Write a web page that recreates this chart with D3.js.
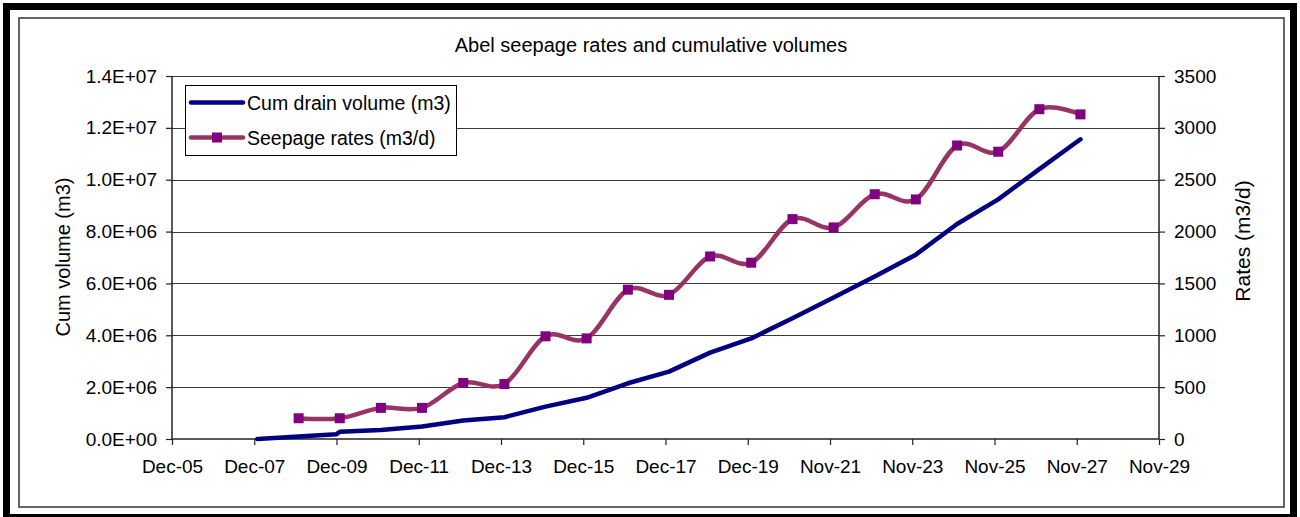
<!DOCTYPE html>
<html>
<head>
<meta charset="utf-8">
<script src="https://cdn.jsdelivr.net/npm/d3@7/dist/d3.min.js"></script>
<style>
  html, body { margin: 0; padding: 0; background: #fff; }
  svg { display: block; font-family: "Liberation Sans", Arial, sans-serif; }
</style>
</head>
<body>
<svg id="chart" width="1300" height="517"></svg>
<script>
// Seepage rates (m3/d), one reading per year
const seepDates = ["2009-01-01","2010-01-01","2011-01-01","2012-01-01","2013-01-01",
  "2014-01-01","2015-01-01","2016-01-01","2017-01-01","2018-01-01",
  "2019-01-01","2020-01-01","2021-01-01","2022-01-01","2023-01-01",
  "2024-01-01","2025-01-01","2026-01-01","2027-01-01","2028-01-01"];
const seepRates = [200, 200, 300, 300, 540, 530, 990, 970, 1440, 1390,
  1760, 1700, 2120, 2040, 2360, 2310, 2830, 2770, 3180, 3130];

// Cumulative drain volume (m3)
const cumDates = ["2008-01-01","2009-12-01","2010-01-01","2011-01-01","2012-01-01",
  "2013-01-01","2014-01-01","2015-01-01","2016-01-01","2017-01-01",
  "2018-01-01","2019-01-01","2020-01-01","2021-01-01","2022-01-01",
  "2023-01-01","2024-01-01","2025-01-01","2026-01-01","2027-01-01","2028-01-01"];
const cumVolumes = [0, 180000, 280000, 350000, 480000, 710000, 840000, 1250000,
  1590000, 2150000, 2600000, 3330000, 3880000, 4660000, 5460000, 6270000,
  7110000, 8290000, 9240000, 10410000, 11560000];

// Date axis ticks (730-day major unit)
const xTickDates = ["2005-12-04","2007-12-04","2009-12-03","2011-12-03","2013-12-02",
  "2015-12-02","2017-12-01","2019-12-01","2021-11-30","2023-11-30",
  "2025-11-29","2027-11-29","2029-11-28"];
const leftTicks = [0, 2e6, 4e6, 6e6, 8e6, 1e7, 1.2e7, 1.4e7];
const rightTicks = [0, 500, 1000, 1500, 2000, 2500, 3000, 3500];

const parse = d3.utcParse("%Y-%m-%d");
const svg = d3.select("#chart");

// Outer frame and chart-area border
svg.append("rect").attr("x", 6.5).attr("y", 6.5).attr("width", 1287).attr("height", 511)
  .attr("fill", "none").attr("stroke", "#000").attr("stroke-width", 7);
svg.append("rect").attr("x", 19).attr("y", 18).attr("width", 1265).attr("height", 489)
  .attr("fill", "none").attr("stroke", "#333").attr("stroke-width", 1.5);

const plot = { left: 172, right: 1159, top: 76, bottom: 439 };

const x = d3.scaleUtc()
  .domain([parse(xTickDates[0]), parse(xTickDates[xTickDates.length - 1])])
  .range([plot.left, plot.right]);
const yL = d3.scaleLinear().domain([0, 1.4e7]).range([plot.bottom, plot.top]);
const yR = d3.scaleLinear().domain([0, 3500]).range([plot.bottom, plot.top]);

const sci = v => {
  if (v === 0) return "0.0E+00";
  const e = Math.floor(Math.log10(v));
  const m = v / Math.pow(10, e);
  return m.toFixed(1) + "E+" + String(e).padStart(2, "0");
};

// Horizontal gridlines
svg.append("g").selectAll("line").data(leftTicks.slice(1)).join("line")
  .attr("x1", plot.left).attr("x2", plot.right)
  .attr("y1", d => Math.round(yL(d)) + 0.5).attr("y2", d => Math.round(yL(d)) + 0.5)
  .attr("stroke", "#3a3a3a").attr("stroke-width", 1.2);

const fontSize = 19;

// Left axis
const gL = svg.append("g").attr("transform", `translate(${plot.left},0)`)
  .call(d3.axisLeft(yL).tickValues(leftTicks).tickFormat(sci).tickSize(6).tickPadding(9));
// Right axis
const gR = svg.append("g").attr("transform", `translate(${plot.right},0)`)
  .call(d3.axisRight(yR).tickValues(rightTicks).tickFormat(d3.format("d")).tickSize(6).tickPadding(9));
// Bottom axis
const gB = svg.append("g").attr("transform", `translate(0,${plot.bottom})`)
  .call(d3.axisBottom(x).tickValues(xTickDates.map(parse))
    .tickFormat(d3.utcFormat("%b-%y")).tickSize(6).tickPadding(15));

[gL, gR, gB].forEach(g => {
  g.selectAll("path.domain").attr("stroke", "#222").attr("stroke-width", 1.5);
  g.selectAll(".tick line").attr("stroke", "#222").attr("stroke-width", 1.2);
  g.selectAll("text").attr("font-size", fontSize).attr("fill", "#000")
    .attr("font-family", "Liberation Sans, Arial, sans-serif");
});
gL.select("path.domain").attr("d", `M0,${plot.top}V${plot.bottom}`);
gR.select("path.domain").attr("d", `M0,${plot.top}V${plot.bottom}`);
gB.select("path.domain").attr("d", `M${plot.left},0H${plot.right}`);

// Cumulative volume line
const cumData = cumDates.map((d, i) => ({ date: parse(d), v: cumVolumes[i] }));
svg.append("path").datum(cumData)
  .attr("fill", "none").attr("stroke", "#000080").attr("stroke-width", 4.5)
  .attr("stroke-linejoin", "round").attr("stroke-linecap", "round")
  .attr("d", d3.line().x(d => x(d.date)).y(d => yL(d.v)));

// Seepage rate line (smoothed) with square markers
const seepData = seepDates.map((d, i) => ({ date: parse(d), v: seepRates[i] }));
svg.append("path").datum(seepData)
  .attr("fill", "none").attr("stroke", "#993366").attr("stroke-width", 4.5)
  .attr("stroke-linejoin", "round")
  .attr("d", d3.line().curve(d3.curveCardinal.tension(0)).x(d => x(d.date)).y(d => yR(d.v)));
const ms = 10;
svg.append("g").selectAll("rect").data(seepData).join("rect")
  .attr("x", d => x(d.date) - ms / 2).attr("y", d => yR(d.v) - ms / 2)
  .attr("width", ms).attr("height", ms).attr("fill", "#800080");

// Title
svg.append("text").attr("x", 651).attr("y", 52).attr("text-anchor", "middle")
  .attr("font-size", 20).text("Abel seepage rates and cumulative volumes");

// Axis titles
svg.append("text").attr("transform", "translate(70,257) rotate(-90)")
  .attr("text-anchor", "middle").attr("font-size", 20).text("Cum volume (m3)");
svg.append("text").attr("transform", "translate(1250,241) rotate(-90)")
  .attr("text-anchor", "middle").attr("font-size", 21).text("Rates (m3/d)");

// Legend
const legend = svg.append("g");
legend.append("rect").attr("x", 185.5).attr("y", 85.5).attr("width", 271).attr("height", 70)
  .attr("fill", "#fff").attr("stroke", "#000").attr("stroke-width", 1);
const legendItems = [
  { label: "Cum drain volume (m3)", color: "#000080", marker: false },
  { label: "Seepage rates (m3/d)", color: "#993366", marker: true }
];
legendItems.forEach((it, i) => {
  const cy = 102.5 + i * 35;
  legend.append("line").attr("x1", 191).attr("x2", 243).attr("y1", cy).attr("y2", cy)
    .attr("stroke", it.color).attr("stroke-width", 4.5).attr("stroke-linecap", "round");
  if (it.marker) {
    legend.append("rect").attr("x", 217 - ms / 2).attr("y", cy - ms / 2)
      .attr("width", ms).attr("height", ms).attr("fill", "#800080");
  }
  legend.append("text").attr("x", 247).attr("y", cy + 7).attr("font-size", 19.5)
    .text(it.label);
});
</script>
</body>
</html>
